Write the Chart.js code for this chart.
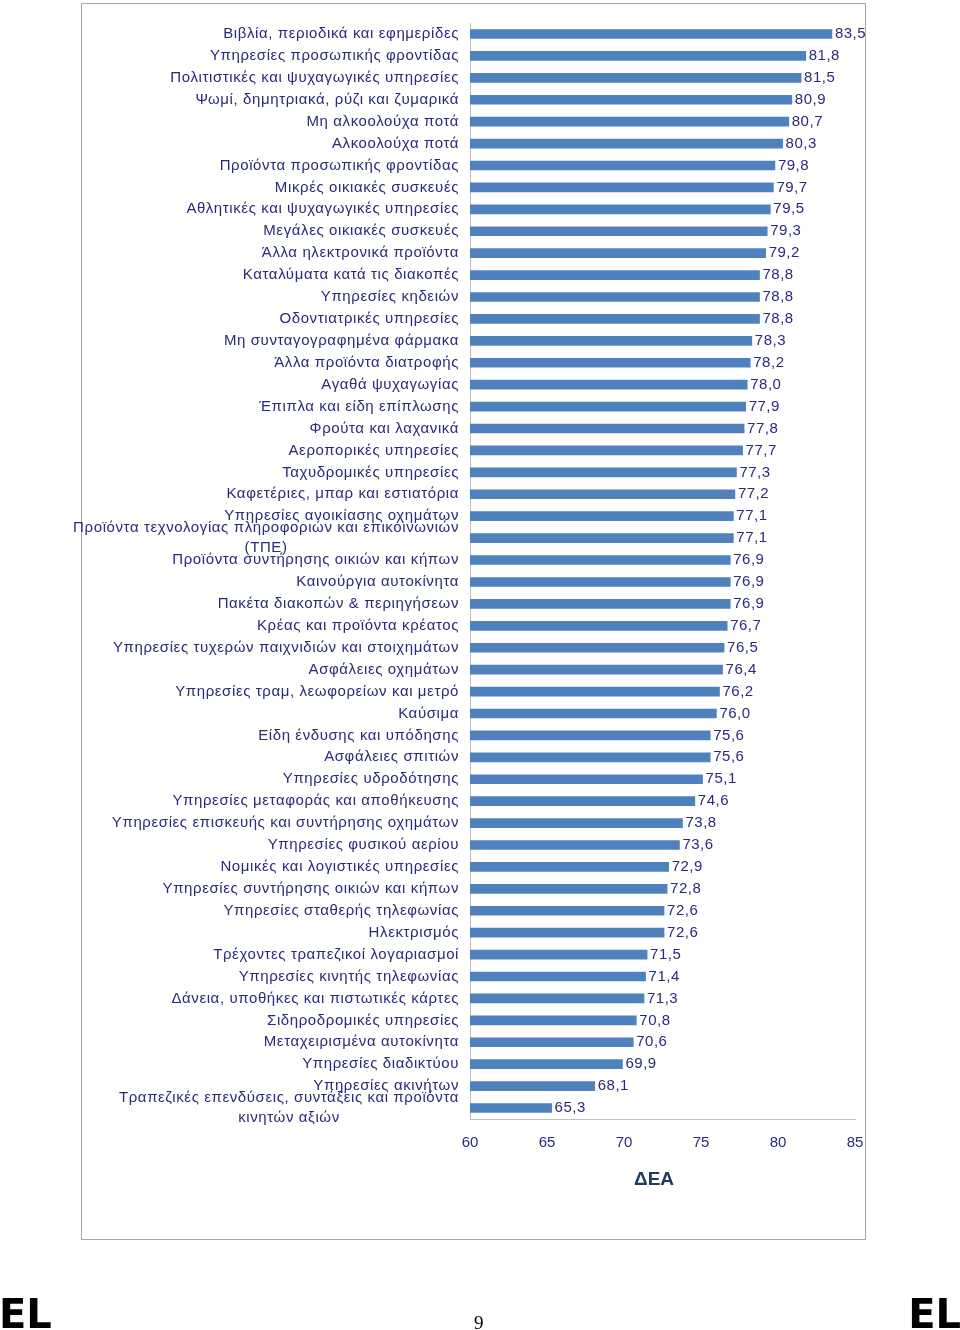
<!DOCTYPE html>
<html>
<head>
<meta charset="utf-8">
<script src="https://cdn.jsdelivr.net/npm/chart.js@4/dist/chart.umd.min.js"></script>
<style>
  html, body { margin: 0; padding: 0; background: #fff; }
  #wrap { position: relative; width: 960px; height: 1330px; overflow: hidden; }
  #box { position: absolute; left: 81px; top: 3px; width: 783px; height: 1235px; border: 1px solid #a6a6a6; }
  canvas { position: absolute; left: 0; top: 0; }
  .el { position: absolute; top: 1294px; font: bold 40px "DejaVu Sans", sans-serif; line-height: 40px; color: #000; }
  #pg { position: absolute; top: 1312px; left: 474px; font: 19px "Liberation Serif", serif; color: #000; }
</style>
</head>
<body>
<div id="wrap">
  <div id="box"></div>
  <canvas id="chart" width="960" height="1330"></canvas>
  <div class="el" style="left:-1px;">EL</div>
  <div class="el" style="right:-1px;">EL</div>
  <div id="pg">9</div>
</div>
<script>
// Κατηγορίες (από πάνω προς τα κάτω)
const categories = [
  'Βιβλία, περιοδικά και εφημερίδες',
  'Υπηρεσίες προσωπικής φροντίδας',
  'Πολιτιστικές και ψυχαγωγικές υπηρεσίες',
  'Ψωμί, δημητριακά, ρύζι και ζυμαρικά',
  'Μη αλκοολούχα ποτά',
  'Αλκοολούχα ποτά',
  'Προϊόντα προσωπικής φροντίδας',
  'Μικρές οικιακές συσκευές',
  'Αθλητικές και ψυχαγωγικές υπηρεσίες',
  'Μεγάλες οικιακές συσκευές',
  'Άλλα ηλεκτρονικά προϊόντα',
  'Καταλύματα κατά τις διακοπές',
  'Υπηρεσίες κηδειών',
  'Οδοντιατρικές υπηρεσίες',
  'Μη συνταγογραφημένα φάρμακα',
  'Άλλα προϊόντα διατροφής',
  'Αγαθά ψυχαγωγίας',
  'Έπιπλα και είδη επίπλωσης',
  'Φρούτα και λαχανικά',
  'Αεροπορικές υπηρεσίες',
  'Ταχυδρομικές υπηρεσίες',
  'Καφετέριες, μπαρ και εστιατόρια',
  'Υπηρεσίες ανοικίασης οχημάτων',
  ['Προϊόντα τεχνολογίας πληροφοριών και επικοινωνιών', '(ΤΠΕ)'],
  'Προϊόντα συντήρησης οικιών και κήπων',
  'Καινούργια αυτοκίνητα',
  'Πακέτα διακοπών & περιηγήσεων',
  'Κρέας και προϊόντα κρέατος',
  'Υπηρεσίες τυχερών παιχνιδιών και στοιχημάτων',
  'Ασφάλειες οχημάτων',
  'Υπηρεσίες τραμ, λεωφορείων και μετρό',
  'Καύσιμα',
  'Είδη ένδυσης και υπόδησης',
  'Ασφάλειες σπιτιών',
  'Υπηρεσίες υδροδότησης',
  'Υπηρεσίες μεταφοράς και αποθήκευσης',
  'Υπηρεσίες επισκευής και συντήρησης οχημάτων',
  'Υπηρεσίες φυσικού αερίου',
  'Νομικές και λογιστικές υπηρεσίες',
  'Υπηρεσίες συντήρησης οικιών και κήπων',
  'Υπηρεσίες σταθερής τηλεφωνίας',
  'Ηλεκτρισμός',
  'Τρέχοντες τραπεζικοί λογαριασμοί',
  'Υπηρεσίες κινητής τηλεφωνίας',
  'Δάνεια, υποθήκες και πιστωτικές κάρτες',
  'Σιδηροδρομικές υπηρεσίες',
  'Μεταχειρισμένα αυτοκίνητα',
  'Υπηρεσίες διαδικτύου',
  'Υπηρεσίες ακινήτων',
  ['Τραπεζικές επενδύσεις, συντάξεις και προϊόντα', 'κινητών αξιών']
];

// Τιμές ΔΕΑ
const values = [
  83.5, 81.8, 81.5, 80.9, 80.7, 80.3, 79.8, 79.7, 79.5, 79.3,
  79.2, 78.8, 78.8, 78.8, 78.3, 78.2, 78.0, 77.9, 77.8, 77.7,
  77.3, 77.2, 77.1, 77.1, 76.9, 76.9, 76.9, 76.7, 76.5, 76.4,
  76.2, 76.0, 75.6, 75.6, 75.1, 74.6, 73.8, 73.6, 72.9, 72.8,
  72.6, 72.6, 71.5, 71.4, 71.3, 70.8, 70.6, 69.9, 68.1, 65.3
];

const xTicks = [60, 65, 70, 75, 80, 85];
const axisTitle = 'ΔΕΑ';

const textColor = '#2a2a7c';
const fontFamily = '"Liberation Sans", Arial, sans-serif';
const labelFont = '15px ' + fontFamily;

// Ετικέτες κατηγοριών: μονές γραμμές δεξιά στοιχισμένες, οι διπλές κεντραρισμένες μεταξύ τους
const catLabels = {
  id: 'catLabels',
  afterDraw(chart) {
    const ctx = chart.ctx;
    const y = chart.scales.y;
    const right = chart.chartArea.left - 11;
    ctx.save();
    ctx.font = labelFont;
    ctx.letterSpacing = '0.6px';
    ctx.fillStyle = textColor;
    ctx.textBaseline = 'middle';
    categories.forEach((lab, i) => {
      const py = y.getPixelForTick(i);
      if (Array.isArray(lab)) {
        const w = Math.max(...lab.map(l => ctx.measureText(l).width));
        const cx = right - w / 2;
        ctx.textAlign = 'center';
        lab.forEach((l, j) => {
          ctx.fillText(l, cx, py + (j - (lab.length - 1) / 2) * 20);
        });
      } else {
        ctx.textAlign = 'right';
        ctx.fillText(lab, right, py);
      }
    });
    // τίτλος άξονα
    ctx.letterSpacing = '0px';
    ctx.font = 'bold 19px ' + fontFamily;
    ctx.fillStyle = '#1f3864';
    ctx.textAlign = 'center';
    ctx.fillText(axisTitle, 654, 1180);
    ctx.restore();
  }
};

// Τιμές στο τέλος κάθε ράβδου
const valueLabels = {
  id: 'valueLabels',
  afterDatasetsDraw(chart) {
    const ctx = chart.ctx;
    const meta = chart.getDatasetMeta(0);
    ctx.save();
    ctx.font = labelFont;
    ctx.letterSpacing = '0.5px';
    ctx.fillStyle = textColor;
    ctx.textAlign = 'left';
    ctx.textBaseline = 'middle';
    meta.data.forEach((bar, i) => {
      ctx.fillText(values[i].toFixed(1).replace('.', ','), bar.x + 3, bar.y);
    });
    ctx.restore();
  }
};

new Chart(document.getElementById('chart'), {
  type: 'bar',
  data: {
    labels: categories,
    datasets: [{
      data: values,
      backgroundColor: '#4f81bd',
      barThickness: 9,
      base: 60
    }]
  },
  options: {
    indexAxis: 'y',
    responsive: false,
    animation: false,
    layout: { padding: { top: 23, right: 105, bottom: 171, left: 0 } },
    plugins: {
      legend: { display: false },
      tooltip: { enabled: false }
    },
    scales: {
      x: {
        min: 60,
        max: 85,
        afterBuildTicks(scale) { scale.ticks = xTicks.map(v => ({ value: v })); },
        afterFit(scale) { scale.height = 40; },
        grid: { display: false, drawTicks: false },
        border: { display: true, color: '#bfbfbf', width: 1 },
        ticks: {
          padding: 15,
          color: textColor,
          font: { family: fontFamily, size: 15 },
          maxRotation: 0
        }
      },
      y: {
        grid: { display: false, drawTicks: false },
        border: { display: true, color: '#bfbfbf', width: 1 },
        ticks: { display: false },
        afterFit(scale) { scale.width = 470; }
      }
    }
  },
  plugins: [catLabels, valueLabels]
});
</script>
</body>
</html>
